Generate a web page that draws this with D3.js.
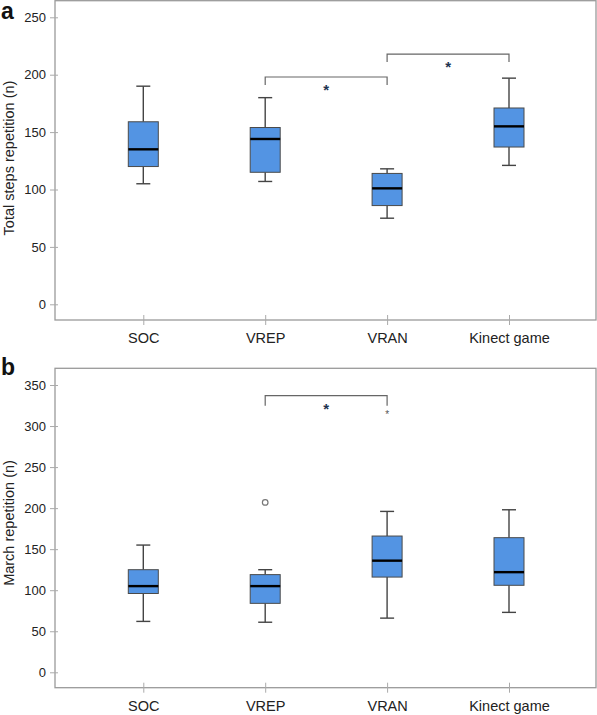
<!DOCTYPE html>
<html><head><meta charset="utf-8">
<script src="https://cdn.jsdelivr.net/npm/d3@7"></script>
<style>body{margin:0;background:#fff}svg{display:block}text{font-family:Arial,"Liberation Sans",sans-serif}</style>
</head><body><svg id="c" width="597" height="715"></svg>
<script>
const categories = ["SOC","VREP","VRAN","Kinect game"];
// panel a: Total steps repetition  [low whisker, Q1, median, Q3, high whisker]
const stepsLow    = [105, 107, 75, 121];
const stepsQ1     = [120, 115, 86, 137];
const stepsMedian = [135, 144, 101, 155];
const stepsQ3     = [159, 154, 114, 171];
const stepsHigh   = [190, 180, 118, 197];
const stepsTicks  = [0, 50, 100, 150, 200, 250];
const stepsBrackets = [{from:"VREP", to:"VRAN", level:198, drop:8}, {from:"VRAN", to:"Kinect game", level:218, drop:8}];
// panel b: March repetition
const marchLow    = [62, 61, 66, 73];
const marchQ1     = [96, 84, 116, 106];
const marchMedian = [105, 105, 136, 122];
const marchQ3     = [125, 119, 166, 164];
const marchHigh   = [155, 125, 196, 198];
const marchOutliers = [{cat:"VREP", value:207, type:"circle"}, {cat:"VRAN", value:316, type:"star"}];
const marchTicks  = [0, 50, 100, 150, 200, 250, 300, 350];
const marchBrackets = [{from:"VREP", to:"VRAN", level:337, drop:10}];

const svg = d3.select("#c");
const x = d3.scalePoint().domain(categories).range([143.3, 509]);
const boxW = 30, capW = 14;

function panel(cfg){
  const g = svg.append("g");
  const y = d3.scaleLinear().domain(cfg.domain).range(cfg.range);
  // frame
  g.append("rect").attr("x",55).attr("y",cfg.top).attr("width",541).attr("height",cfg.bottom-cfg.top)
    .attr("fill","none").attr("stroke","#9a9a9a").attr("stroke-width",1.3);
  // y axis
  const ya = g.append("g").attr("transform","translate(55,0)")
    .call(d3.axisLeft(y).tickValues(cfg.ticks).tickSize(5).tickFormat(d3.format("d")));
  ya.select(".domain").remove();
  ya.selectAll(".tick line").attr("stroke","#aaa").attr("x1",3);
  ya.selectAll(".tick text").attr("font-size",13).attr("fill","#222").attr("font-family","Arial, 'Liberation Sans', sans-serif").attr("x",-9);
  // x axis
  const xa = g.append("g").attr("transform",`translate(0,${cfg.bottom})`)
    .call(d3.axisBottom(x).tickSize(5));
  xa.select(".domain").remove();
  xa.selectAll(".tick line").attr("stroke","#aaa").attr("y1",-5);
  xa.selectAll(".tick text").attr("font-size",14.5).attr("fill","#222").attr("font-family","Arial, 'Liberation Sans', sans-serif").attr("y",13).attr("dy","0.71em");
  // axis title
  g.append("text").attr("transform",`translate(14,${cfg.titleY}) rotate(-90)`).attr("text-anchor","middle")
    .attr("font-size",14.5).attr("fill","#222").text(cfg.title);
  // panel letter
  g.append("text").attr("x",1).attr("y",cfg.letterY).attr("font-size",23).attr("font-weight","bold").attr("fill","#111").text(cfg.letter);
  // boxes
  const data = categories.map((c,i)=>({c, lo:cfg.lo[i], q1:cfg.q1[i], med:cfg.med[i], q3:cfg.q3[i], hi:cfg.hi[i]}));
  const b = g.selectAll(".box").data(data).join("g");
  b.append("line").attr("x1",d=>x(d.c)).attr("x2",d=>x(d.c)).attr("y1",d=>y(d.hi)).attr("y2",d=>y(d.q3)).attr("stroke","#444").attr("stroke-width",1.4);
  b.append("line").attr("x1",d=>x(d.c)).attr("x2",d=>x(d.c)).attr("y1",d=>y(d.q1)).attr("y2",d=>y(d.lo)).attr("stroke","#444").attr("stroke-width",1.4);
  b.append("line").attr("x1",d=>x(d.c)-capW/2).attr("x2",d=>x(d.c)+capW/2).attr("y1",d=>y(d.hi)).attr("y2",d=>y(d.hi)).attr("stroke","#444").attr("stroke-width",1.4);
  b.append("line").attr("x1",d=>x(d.c)-capW/2).attr("x2",d=>x(d.c)+capW/2).attr("y1",d=>y(d.lo)).attr("y2",d=>y(d.lo)).attr("stroke","#444").attr("stroke-width",1.4);
  b.append("rect").attr("x",d=>x(d.c)-boxW/2).attr("width",boxW).attr("y",d=>y(d.q3)).attr("height",d=>y(d.q1)-y(d.q3))
    .attr("fill","#5394e3").attr("stroke","#4a4a4a").attr("stroke-width",1);
  b.append("line").attr("x1",d=>x(d.c)-boxW/2).attr("x2",d=>x(d.c)+boxW/2).attr("y1",d=>y(d.med)).attr("y2",d=>y(d.med)).attr("stroke","#000").attr("stroke-width",2.4);
  // outliers
  (cfg.outliers||[]).forEach(o=>{
    if(o.type==="circle") g.append("circle").attr("cx",x(o.cat)).attr("cy",y(o.value)).attr("r",2.8).attr("fill","#fff").attr("stroke","#777").attr("stroke-width",1.2);
    else g.append("text").attr("x",x(o.cat)).attr("y",y(o.value)+5.5).attr("text-anchor","middle").attr("font-size",10).attr("fill","#555").text("*");
  });
  // brackets
  cfg.brackets.forEach(br=>{
    const x1 = x(br.from), x2 = x(br.to), yl = y(br.level);
    g.append("path").attr("d",`M${x1},${yl+br.drop}V${yl}H${x2}V${yl+br.drop}`).attr("fill","none").attr("stroke","#666").attr("stroke-width",1.2);
    g.append("text").attr("x",(x1+x2)/2).attr("y",yl+18).attr("text-anchor","middle").attr("font-size",15).attr("font-weight","bold").attr("fill","#1e3350").text("*");
  });
}

panel({domain:[0,250], range:[304.3,17.3], top:0.7, bottom:320, ticks:stepsTicks, title:"Total steps repetition (n)", titleY:158, letter:"a", letterY:18.5,
  lo:stepsLow, q1:stepsQ1, med:stepsMedian, q3:stepsQ3, hi:stepsHigh, brackets:stepsBrackets});
panel({domain:[0,350], range:[672.3,385], top:368.3, bottom:687.7, ticks:marchTicks, title:"March repetition (n)", titleY:523, letter:"b", letterY:375,
  lo:marchLow, q1:marchQ1, med:marchMedian, q3:marchQ3, hi:marchHigh, outliers:marchOutliers, brackets:marchBrackets});
</script></body></html>
